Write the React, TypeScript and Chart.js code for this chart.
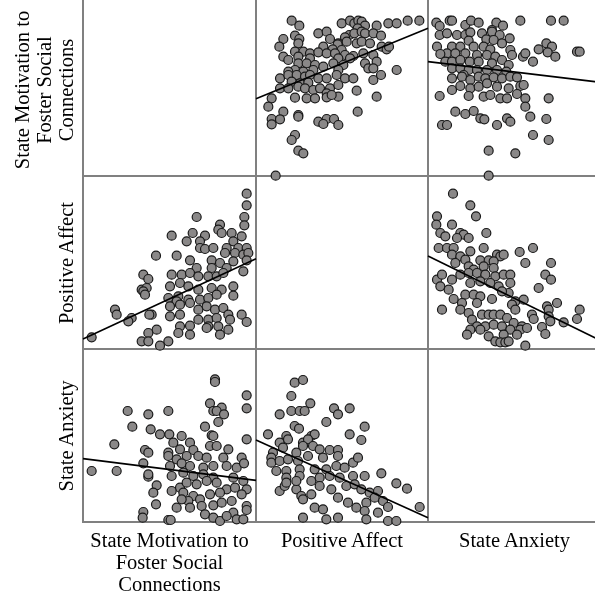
import React, { useEffect, useRef } from "react";
import { Chart, registerables } from "chart.js";

Chart.register(...registerables);

// Variable names (rows and columns of the scatterplot matrix)
const variableLabels: string[][] = [
  ["State Motivation to", "Foster Social", "Connections"],
  ["Positive Affect"],
  ["State Anxiety"],
];

// Row 1, col 2: x = Positive Affect, y = State Motivation
const motivationByAffect: number[][] = [
  [110,466],[133,451],[260,458],[285,466],[298,458],[310,466],[320,463],[330,451],[308,443],[365,451],[400,458],[425,458],[458,466],[493,466],
  [190,428],[215,433],[283,423],[298,428],[320,433],[330,428],[355,428],[378,421],[120,421],[133,411],[85,411],[225,411],[270,416],[250,398],
  [73,388],[130,398],[205,388],[248,395],[275,403],[305,398],[320,403],[345,398],[380,388],[395,380],[402,388],[233,380],[260,378],
  [85,358],[120,373],[145,373],[165,368],[190,371],[215,368],[240,368],[270,363],[295,360],[325,368],[355,363],[100,348],[130,358],[165,353],[250,353],[285,353],
  [130,338],[155,338],[180,333],[205,328],[235,338],[265,333],[330,338],[365,343],[340,323],[355,323],[425,318],[120,318],[100,313],[145,313],[175,318],[250,318],
  [75,293],[100,303],[125,303],[150,298],[165,303],[190,293],[215,293],[245,303],[270,293],[295,293],[355,288],[378,303],[110,283],[135,278],[160,280],
  [75,263],[100,263],[130,268],[150,263],[175,258],[195,263],[225,263],[250,273],[215,248],[305,256],
  [50,233],[120,235],[155,233],[180,233],[215,236],[250,238],[365,238],[230,243],
  [40,208],[85,193],[130,183],[130,178],[308,193],
  [50,171],[75,170],[50,155],[190,163],[215,171],[237,171],[205,156],[250,153],
  [120,123],[110,108],[130,76],[145,68],[62,1],
];

// Row 1, col 3: x = State Anxiety, y = State Motivation
const motivationByAnxiety: number[][] = [
  [28,460],[38,450],[68,466],[75,466],[115,453],[132,466],[155,460],[208,460],[228,451],[280,466],[372,466],[410,466],[195,438],
  [38,423],[60,428],[90,423],[115,423],[130,431],[165,428],[195,433],[218,423],[178,410],[248,413],[125,406],[200,408],
  [30,388],[75,388],[100,388],[140,388],[170,388],[225,398],[250,378],[190,380],[60,368],[335,380],[358,398],[375,388],[362,371],[385,358],[450,373],[458,373],
  [40,366],[85,368],[115,368],[150,363],[180,363],[205,358],[255,363],[288,358],[295,368],[318,343],
  [55,343],[75,343],[100,348],[128,343],[155,343],[195,338],[225,348],[245,333],
  [75,323],[100,323],[125,318],[150,318],[180,318],[210,318],[238,313],[110,303],
  [75,293],[105,298],[130,288],[155,298],[175,293],[200,296],[225,293],[250,298],[270,296],
  [75,258],[100,270],[130,263],[155,268],[180,278],[210,268],[245,263],[280,270],[290,273],
  [38,240],[125,240],[170,238],[190,243],[220,233],[240,233],[270,246],[295,233],[365,233],
  [85,193],[115,186],[140,195],[295,208],[310,178],
  [45,153],[60,153],[160,173],[172,170],[240,173],[250,163],[210,153],[358,171],
  [318,123],[365,108],[185,76],[265,68],[185,1],
];

// Row 2, col 1: x = State Motivation, y = Positive Affect
const affectByMotivation: number[][] = [
  [500,466],[500,431],[350,396],[493,396],[493,371],[420,373],[415,358],[425,348],[275,340],[338,348],[320,323],[375,340],[360,323],[455,348],[485,338],[460,323],[475,303],[500,303],
  [228,280],[290,280],[360,303],[375,300],[400,303],[440,303],[435,288],[465,288],[490,283],[505,288],[330,266],[395,266],[420,258],
  [460,263],[500,266],[490,233],[440,243],[395,243],[350,243],[275,223],[305,223],[330,228],[190,223],[205,210],[355,218],[385,218],[410,218],[430,228],
  [270,188],[300,198],[325,188],[185,178],[200,183],[355,178],[395,183],[425,178],[460,188],[190,173],
  [195,163],[265,153],[295,158],[325,148],[360,148],[385,153],[410,163],[460,160],[290,143],
  [270,128],[300,133],[330,138],[355,118],[380,128],[405,118],[430,123],[105,118],[110,103],[215,103],[208,103],
  [155,93],[145,83],[270,98],[300,103],[355,88],[385,88],[410,93],[445,103],[450,88],[485,103],[500,81],
  [300,68],[330,70],[385,68],[415,68],[445,58],[230,58],[205,48],[295,48],[330,43],[380,63],[420,43],
  [185,23],[205,23],[265,23],[240,10],[35,35],
];

// Row 2, col 3: x = State Anxiety, y = Positive Affect
const affectByAnxiety: number[][] = [
  [78,466],[130,431],[147,398],[30,398],[28,373],[75,373],[178,348],[40,348],[55,338],[100,348],[110,343],[125,333],[90,333],[35,303],[60,303],[80,303],[130,293],[170,303],[210,283],[220,278],[230,283],[278,291],[318,303],[295,258],[372,258],[75,283],[100,278],[115,268],[160,266],[185,266],[200,263],[85,258],[125,248],[140,238],[170,248],[200,243],
  [30,208],[45,223],[75,208],[100,223],[125,228],[150,228],[175,223],[205,218],[230,223],[250,223],[40,188],[130,198],[160,203],[190,198],[250,198],[355,223],[372,208],[335,183],[215,188],
  [65,178],[80,150],[115,163],[140,163],[160,158],[195,150],[245,168],[225,173],[105,138],[150,138],[265,143],[290,148],[255,133],[390,138],[360,128],
  [45,118],[100,118],[125,108],[165,103],[185,103],[200,103],[220,103],[265,118],[315,103],[320,90],[365,118],[365,98],[240,93],[135,88],[370,83],[410,80],[458,118],[450,90],
  [150,68],[175,68],[200,73],[225,68],[260,78],[285,68],[130,58],[160,58],[250,58],[280,58],[300,63],[345,66],[120,43],[185,38],[230,43],[270,43],[355,45],
  [205,23],[220,20],[235,20],[245,23],[295,10],
];

// Row 3, col 1: x = State Motivation, y = State Anxiety
const anxietyByMotivation: number[][] = [
  [405,428],[405,420],[500,380],[500,341],[390,356],[425,343],[400,333],[410,333],[432,323],[415,300],[143,333],[205,323],[265,333],[157,286],[212,278],[375,286],[240,263],[268,263],[305,258],[395,260],[400,258],[500,248],[103,233],[280,238],[330,238],[195,216],[205,208],[265,208],[300,218],[340,216],[390,228],[410,228],[445,218],
  [35,153],[110,153],[190,176],[205,136],[205,143],[230,110],[220,88],[228,53],[265,198],[290,188],[320,198],[355,198],[380,193],[430,193],[485,193],
  [270,168],[305,176],[330,168],[370,163],[400,168],[440,168],[470,163],[492,176],[275,138],[310,148],[340,138],[370,143],[400,133],[460,133],[490,123],
  [300,103],[320,118],[350,113],[380,123],[410,118],[440,98],[465,103],[500,98],[275,93],[310,88],[340,78],[360,68],[390,83],[420,88],[485,83],
  [290,43],[325,63],[330,43],[365,48],[400,50],[425,58],[455,63],[500,48],[500,36],[190,30],[188,13],[265,6],[272,6],[375,23],[400,13],[420,3],[460,28],[470,8],[490,8],[440,18],[305,68],
];

// Row 3, col 2: x = Positive Affect, y = State Anxiety
const anxietyByAffect: number[][] = [
  [125,418],[150,426],[115,378],[172,356],[80,323],[115,333],[140,333],[155,333],[243,341],[255,323],[290,341],[220,300],[125,288],[138,280],[335,286],[45,263],[100,258],[175,258],[185,263],[290,263],[325,246],[80,238],[105,248],[150,238],[165,248],
  [60,208],[55,193],[90,223],[130,208],[150,228],[180,228],[200,218],[230,216],[255,216],[55,178],[80,183],[105,188],[135,183],[165,198],[210,193],[255,198],[300,178],[315,193],
  [70,153],[100,153],[140,158],[185,158],[220,158],[250,168],[275,163],[100,133],[140,138],[175,123],[200,133],[230,138],[260,133],[300,138],[335,138],[385,146],
  [80,93],[95,108],[130,98],[145,78],[175,83],[200,108],[235,98],[280,108],[305,113],[325,98],[350,88],[375,93],[430,116],[462,100],
  [150,68],[185,43],[210,38],[255,73],[285,58],[310,43],[340,58],[365,73],[390,63],[405,45],[500,45],[150,13],[220,8],[255,13],[335,33],[340,8],[375,28],[405,3],[430,3],[130,123],[100,118],
];

// Fit-line endpoints
const fitMotivationByAffect = [[3,232],[519,443]];
const fitMotivationByAnxiety = [[3,343],[522,281]];
const fitAffectByMotivation = [[9,30],[528,271]];
const fitAffectByAnxiety = [[3,279],[522,25]];
const fitAnxietyByMotivation = [[9,190],[528,125]];
const fitAnxietyByAffect = [[9,246],[525,13]];

// Axis ranges per panel
const rangeMotivationByAffect = { x: [3, 519], y: [0, 519] };
const rangeMotivationByAnxiety = { x: [3, 522], y: [0, 519] };
const rangeAffectByMotivation = { x: [9, 528], y: [0, 519] };
const rangeAffectByAnxiety = { x: [3, 522], y: [0, 519] };
const rangeAnxietyByMotivation = { x: [9, 528], y: [0, 519] };
const rangeAnxietyByAffect = { x: [9, 525], y: [0, 519] };

// Layout
const COL_X = [83, 256, 428, 601];
const ROW_Y = [3, 176, 349, 522];
const PAD = 8;
const FONT = '"Liberation Serif", "Times New Roman", Times, serif';

type PanelSpec = {
  row: number;
  col: number;
  points: number[][];
  fit: number[][];
  range: { x: number[]; y: number[] };
};

const panels: PanelSpec[] = [
  { row: 0, col: 1, points: motivationByAffect, fit: fitMotivationByAffect, range: rangeMotivationByAffect },
  { row: 0, col: 2, points: motivationByAnxiety, fit: fitMotivationByAnxiety, range: rangeMotivationByAnxiety },
  { row: 1, col: 0, points: affectByMotivation, fit: fitAffectByMotivation, range: rangeAffectByMotivation },
  { row: 1, col: 2, points: affectByAnxiety, fit: fitAffectByAnxiety, range: rangeAffectByAnxiety },
  { row: 2, col: 0, points: anxietyByMotivation, fit: fitAnxietyByMotivation, range: rangeAnxietyByMotivation },
  { row: 2, col: 1, points: anxietyByAffect, fit: fitAnxietyByAffect, range: rangeAnxietyByAffect },
];

function Panel({ spec }: { spec: PanelSpec }) {
  const ref = useRef<HTMLCanvasElement>(null);
  const left = COL_X[spec.col];
  const top = ROW_Y[spec.row];
  const w = COL_X[spec.col + 1] - left;
  const h = ROW_Y[spec.row + 1] - top;

  useEffect(() => {
    if (!ref.current) return;
    const chart = new Chart(ref.current, {
      type: "scatter",
      data: {
        datasets: [
          {
            type: "scatter",
            data: spec.points.map(([x, y]) => ({ x, y })),
            pointRadius: 4.5,
            pointBackgroundColor: "rgb(138,136,136)",
            pointBorderColor: "rgb(25,25,25)",
            pointBorderWidth: 1.2,
            clip: false,
            order: 2,
          } as any,
          {
            type: "line",
            data: spec.fit.map(([x, y]) => ({ x, y })),
            borderColor: "#000",
            borderWidth: 1.6,
            pointRadius: 0,
            fill: false,
            clip: false,
            order: 1,
          } as any,
        ],
      },
      options: {
        responsive: false,
        animation: false,
        events: [],
        layout: { padding: PAD },
        plugins: { legend: { display: false }, tooltip: { enabled: false } },
        scales: {
          x: { type: "linear", display: false, min: spec.range.x[0], max: spec.range.x[1] },
          y: { type: "linear", display: false, min: spec.range.y[0], max: spec.range.y[1] },
        },
      },
    });
    return () => chart.destroy();
  }, [spec]);

  return (
    <canvas
      ref={ref}
      width={w + 2 * PAD}
      height={h + 2 * PAD}
      style={{ position: "absolute", left: left - PAD, top: top - PAD, width: w + 2 * PAD, height: h + 2 * PAD }}
    />
  );
}

export default function App() {
  const lineColor = "#808080";
  const vLines = [COL_X[0], COL_X[1], COL_X[2]];
  const hLines = [ROW_Y[1], ROW_Y[2], ROW_Y[3]];
  return (
    <div
      style={{
        position: "absolute",
        left: 0,
        top: 0,
        width: 595,
        height: 598,
        overflow: "hidden",
        background: "#fff",
        fontFamily: FONT,
        color: "#000",
      }}
    >
      {vLines.map((x, i) => (
        <div key={"v" + i} style={{ position: "absolute", left: x - 1, top: 0, width: 2, height: ROW_Y[3] + 1, background: lineColor }} />
      ))}
      {hLines.map((y, i) => (
        <div key={"h" + i} style={{ position: "absolute", left: COL_X[0] - 1, top: y - 1, width: 600 - COL_X[0], height: 2, background: lineColor }} />
      ))}
      {panels.map((p, i) => (
        <Panel key={i} spec={p} />
      ))}
      {variableLabels.map((lines, c) => (
        <div
          key={"b" + c}
          style={{
            position: "absolute",
            left: COL_X[c],
            width: COL_X[c + 1] - COL_X[c],
            top: 529,
            textAlign: "center",
            fontSize: 20.5,
            lineHeight: "22px",
            whiteSpace: "nowrap",
          }}
        >
          {lines.map((l, k) => (
            <div key={k}>{l}</div>
          ))}
        </div>
      ))}
      {variableLabels.map((lines, r) => {
        const rowH = ROW_Y[r + 1] - ROW_Y[r];
        const blockH = lines.length * 22;
        const cx = 76 - blockH / 2;
        const cy = (ROW_Y[r] + ROW_Y[r + 1]) / 2;
        return (
          <div
            key={"l" + r}
            style={{
              position: "absolute",
              left: cx - rowH / 2,
              top: cy - blockH / 2,
              width: rowH,
              height: blockH,
              transform: "rotate(-90deg)",
              transformOrigin: "50% 50%",
              textAlign: "center",
              fontSize: 20.5,
              lineHeight: "22px",
              whiteSpace: "nowrap",
            }}
          >
            {lines.map((l, k) => (
              <div key={k}>{l}</div>
            ))}
          </div>
        );
      })}
    </div>
  );
}
